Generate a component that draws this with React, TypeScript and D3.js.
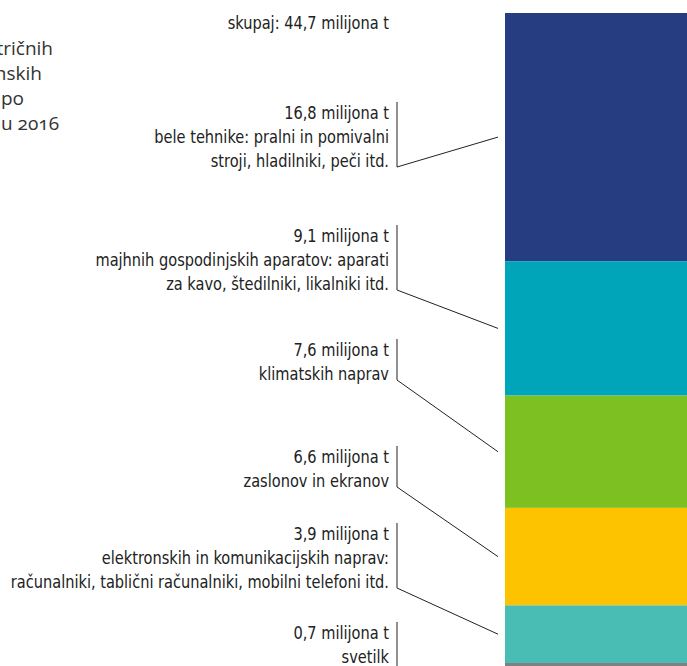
import React from 'react';
import * as d3 from 'd3';

// masa odpadne opreme po kategorijah (milijoni ton)
const amounts = [16.8, 9.1, 7.6, 6.6, 3.9, 0.7];
const amountLabels = ['16,8 milijona t', '9,1 milijona t', '7,6 milijona t', '6,6 milijona t', '3,9 milijona t', '0,7 milijona t'];
const descriptions = [
  ['bele tehnike: pralni in pomivalni', 'stroji, hladilniki, peči itd.'],
  ['majhnih gospodinjskih aparatov: aparati', 'za kavo, štedilniki, likalniki itd.'],
  ['klimatskih naprav'],
  ['zaslonov in ekranov'],
  ['elektronskih in komunikacijskih naprav:', 'računalniki, tablični računalniki, mobilni telefoni itd.'],
  ['svetilk'],
];
const colors = ['#263d82', '#00a5b9', '#7dc022', '#fec300', '#49bdb4', '#808080'];
const totalLabel = 'skupaj: 44,7 milijona t';
const introLines = ['tričnih', 'nskih', 'po', 'u 2016'];

// label placement (baseline of the last line of each label)
const labelBottoms = [167, 290, 380, 487, 588, 663];
const introEnds = [53, 42, 24, 59];

const W = 687;
const H = 666;
const barX = 505;
const lineX = 397;
const textX = 389;
const lineH = 24;

const App: React.FC = () => {
  const total = d3.sum(amounts);
  const tops = [0, ...d3.cumsum(amounts)];
  // 44,0 of the 44,7 fit between y=13 and y=663, the rest is cut off
  const pxPerUnit = 650 / d3.sum(amounts.slice(0, 5));
  const y = d3.scaleLinear().domain([0, total]).range([13, 13 + total * pxPerUnit]);

  const labelFont = "'DejaVu Sans Condensed', sans-serif";
  // condensed look: squeeze the labels horizontally, right edge stays at textX
  const squeeze = `translate(${textX},0) scale(0.9,1)`;

  return (
    <svg width={W} height={H} style={{ position: 'absolute', left: 0, top: 0 }}>
      <rect width={W} height={H} fill="#fff" />

      {/* stacked bar */}
      {amounts.map((v, i) => (
        <rect key={i} x={barX} y={y(tops[i])} width={W - barX} height={y(tops[i] + v) - y(tops[i])} fill={colors[i]} />
      ))}

      {/* intro text, cut off on the left */}
      {introLines.map((t, i) => (
        <text
          key={i}
          x={introEnds[i]}
          y={55 + i * 25}
          textAnchor="end"
          fontFamily="'Open Sans', sans-serif"
          fontSize={19}
          fill="#333"
          style={{ fontVariantNumeric: 'oldstyle-nums' }}
        >
          {t}
        </text>
      ))}

      <g transform={squeeze}>
        <text x={0} y={29} textAnchor="end" fontFamily={labelFont} fontSize={18} fill="#222">
          {totalLabel}
        </text>
      </g>

      {amounts.map((v, i) => {
        const lines = [amountLabels[i], ...descriptions[i]];
        const bottom = labelBottoms[i];
        const first = bottom - (lines.length - 1) * lineH;
        const mid = (y(tops[i]) + y(tops[i] + v)) / 2;
        return (
          <g key={i}>
            <g transform={squeeze}>
              {lines.map((t, j) => (
                <text key={j} x={0} y={first + j * lineH} textAnchor="end" fontFamily={labelFont} fontSize={18} fill="#222">
                  {t}
                </text>
              ))}
            </g>
            <path
              d={i < amounts.length - 1
                ? `M${lineX},${first - 17}V${bottom}L${barX - 7},${mid}`
                : `M${lineX},${first - 17}V${H}`}
              fill="none"
              stroke="#222"
              strokeWidth={1}
            />
          </g>
        );
      })}
    </svg>
  );
};

export default App;
